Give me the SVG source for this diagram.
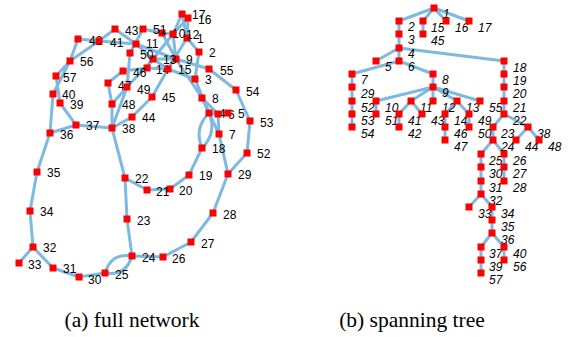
<svg xmlns="http://www.w3.org/2000/svg" width="573" height="337" viewBox="0 0 573 337">
<style>
.e{stroke:#7db9e0;stroke-width:3;fill:none;stroke-linecap:round}
.n rect{fill:#ff0000}
.n text{font-family:"Liberation Sans",Arial,sans-serif;font-size:12px;fill:#000}
.t text{font-style:italic}
.cap{font-family:"Liberation Serif","Times New Roman",serif;font-size:21.5px;fill:#000}
</style>
<rect width="573" height="337" fill="#fff"/>
<g id="connectors-a" class="e">
<path d="M187 38L199 52M199 52L195 79M195 79L209 113M209 113L228 113M209 113L218 114M218 114L219 134M218 114L202 98M202 98L176 59M176 59L162 33M176 59L136 44M176 59L173 34M176 59L153 59M153 59L147 68M153 59L168 69M187 38L168 69M187 38L188 18M187 38L182 14M195 79L168 69"/>
<path d="M209 113Q217.3 132.9 202 148M209 113Q193.7 128.1 202 148"/>
<path d="M228 113L218 114M219 134L202 98M162 33L173 34M136 44L153 59M173 34L153 59M173 34L188 18M173 34L182 14M147 68L168 69M202 148L189 175M189 175L170 189M170 189L147 190M147 190L125 178M125 178L127 219M127 219L132 256"/>
<path d="M132 256Q125.9 276.4 105 273M132 256Q111.1 252.6 105 273"/>
<path d="M132 256L163 257M163 257L191 242M191 242L213 213M213 213L228 174M219 134L228 174M105 273L79 277M79 277L53 268M53 268L33 247M33 247L19 263M33 247L30 211M30 211L37 172M37 172L50 133M50 133L76 125M76 125L112 128M76 125L60 103M50 133L53 94M125 178L112 128M136 44L99 41M99 41L78 39M99 41L115 29M112 128L132 117M168 69L152 97M147 68L123 71M123 71L108 83M108 83L112 104M112 104L127 87M127 87L130 53M130 53L143 29M162 33L143 29M153 59L127 87M228 174L247 153M247 153L250 121M250 121L236 90M236 90L209 69M136 44L115 29M132 117L152 97M53 94L70 61M70 61L99 41M70 61L78 39M60 103L56 76M56 76L70 61M112 128L127 87M112 128L112 104M176 59L209 69"/>
</g>
<g id="connectors-b" class="e">
<path d="M434 8L399 21M434 8L423 21M434 8L446 21M434 8L469 21M399 21L399 48M423 21L423 34M399 48L376 61M399 48L399 61M399 48L504 61M399 61L352 74M399 61L433 74M352 74L352 127M433 74L433 87M433 87L376 101M433 87L411 101M433 87L433 101M433 87L457 101M433 87L480 101M376 101L376 114M411 101L399 114M411 101L422 114M399 114L399 127M457 101L445 114M457 101L469 114M445 114L445 140M469 114L469 127M504 61L504 114M504 114L493 127M504 114L528 127M493 127L493 140M528 127L516 140M528 127L539 140M493 140L481 154M493 140L504 154M481 154L481 194M481 194L469 207M481 194L492 207M492 207L492 233M492 233L481 247M492 233L504 247M481 247L481 273M504 247L504 260M504 154L504 181"/>
</g>
<g id="a-n1" class="n"><rect x="183.5" y="34.5" width="7" height="7"/><text x="197" y="43">1</text></g>
<g id="a-n2" class="n"><rect x="195.5" y="48.5" width="7" height="7"/><text x="209" y="57">2</text></g>
<g id="a-n3" class="n"><rect x="191.5" y="75.5" width="7" height="7"/><text x="205" y="84">3</text></g>
<g id="a-n4" class="n"><rect x="205.5" y="109.5" width="7" height="7"/><text x="219" y="118">4</text></g>
<g id="a-n6" class="n"><rect x="214.5" y="110.5" width="7" height="7"/><text x="228" y="119">6</text></g>
<g id="a-n5" class="n"><rect x="224.5" y="109.5" width="7" height="7"/><text x="238" y="118">5</text></g>
<g id="a-n7" class="n"><rect x="215.5" y="130.5" width="7" height="7"/><text x="229" y="139">7</text></g>
<g id="a-n8" class="n"><rect x="198.5" y="94.5" width="7" height="7"/><text x="212" y="103">8</text></g>
<g id="a-n9" class="n"><text x="186" y="64">9</text><rect x="172.5" y="55.5" width="7" height="7"/></g>
<g id="a-n10" class="n"><rect x="158.5" y="29.5" width="7" height="7"/><text x="172" y="38">10</text></g>
<g id="a-n12" class="n"><rect x="169.5" y="30.5" width="7" height="7"/><text x="186" y="39">12</text></g>
<g id="a-n11" class="n"><rect x="132.5" y="40.5" width="7" height="7"/><text x="146" y="48">11</text></g>
<g id="a-n13" class="n"><text x="163" y="64">13</text><rect x="149.5" y="55.5" width="7" height="7"/></g>
<g id="a-n14" class="n"><rect x="143.5" y="64.5" width="7" height="7"/><text x="156" y="74">14</text></g>
<g id="a-n15" class="n"><rect x="164.5" y="65.5" width="7" height="7"/><text x="178" y="74">15</text></g>
<g id="a-n16" class="n"><rect x="184.5" y="14.5" width="7" height="7"/><text x="198" y="24">16</text></g>
<g id="a-n17" class="n"><rect x="178.5" y="10.5" width="7" height="7"/><text x="192" y="19">17</text></g>
<g id="a-n18" class="n"><rect x="198.5" y="144.5" width="7" height="7"/><text x="212" y="153">18</text></g>
<g id="a-n19" class="n"><rect x="185.5" y="171.5" width="7" height="7"/><text x="199" y="180">19</text></g>
<g id="a-n20" class="n"><rect x="166.5" y="185.5" width="7" height="7"/><text x="179" y="195">20</text></g>
<g id="a-n21" class="n"><rect x="143.5" y="186.5" width="7" height="7"/><text x="156" y="196">21</text></g>
<g id="a-n22" class="n"><rect x="121.5" y="174.5" width="7" height="7"/><text x="135" y="183">22</text></g>
<g id="a-n23" class="n"><rect x="123.5" y="215.5" width="7" height="7"/><text x="137" y="225">23</text></g>
<g id="a-n24" class="n"><rect x="128.5" y="252.5" width="7" height="7"/><text x="142" y="262">24</text></g>
<g id="a-n25" class="n"><rect x="101.5" y="269.5" width="7" height="7"/><text x="115" y="279">25</text></g>
<g id="a-n26" class="n"><rect x="159.5" y="253.5" width="7" height="7"/><text x="172" y="263">26</text></g>
<g id="a-n27" class="n"><rect x="187.5" y="238.5" width="7" height="7"/><text x="201" y="248">27</text></g>
<g id="a-n28" class="n"><rect x="209.5" y="209.5" width="7" height="7"/><text x="223" y="219">28</text></g>
<g id="a-n29" class="n"><rect x="224.5" y="170.5" width="7" height="7"/><text x="238" y="179">29</text></g>
<g id="a-n30" class="n"><text x="88" y="284">30</text><rect x="75.5" y="273.5" width="7" height="7"/></g>
<g id="a-n31" class="n"><rect x="49.5" y="264.5" width="7" height="7"/><text x="63" y="273">31</text></g>
<g id="a-n32" class="n"><rect x="29.5" y="243.5" width="7" height="7"/><text x="43" y="252">32</text></g>
<g id="a-n33" class="n"><rect x="15.5" y="259.5" width="7" height="7"/><text x="28" y="269">33</text></g>
<g id="a-n34" class="n"><rect x="26.5" y="207.5" width="7" height="7"/><text x="40" y="216">34</text></g>
<g id="a-n35" class="n"><rect x="33.5" y="168.5" width="7" height="7"/><text x="47" y="177">35</text></g>
<g id="a-n36" class="n"><rect x="46.5" y="129.5" width="7" height="7"/><text x="60" y="139">36</text></g>
<g id="a-n37" class="n"><rect x="72.5" y="121.5" width="7" height="7"/><text x="86" y="130">37</text></g>
<g id="a-n38" class="n"><rect x="108.5" y="124.5" width="7" height="7"/><text x="122" y="133">38</text></g>
<g id="a-n39" class="n"><rect x="56.5" y="99.5" width="7" height="7"/><text x="70" y="109">39</text></g>
<g id="a-n40" class="n"><rect x="49.5" y="90.5" width="7" height="7"/><text x="62" y="99">40</text></g>
<g id="a-n42" class="n"><rect x="74.5" y="35.5" width="7" height="7"/><text x="89" y="45">42</text></g>
<g id="a-n41" class="n"><rect x="95.5" y="37.5" width="7" height="7"/><text x="110" y="47">41</text></g>
<g id="a-n43" class="n"><rect x="111.5" y="25.5" width="7" height="7"/><text x="125" y="35">43</text></g>
<g id="a-n44" class="n"><rect x="128.5" y="113.5" width="7" height="7"/><text x="142" y="122">44</text></g>
<g id="a-n45" class="n"><rect x="148.5" y="93.5" width="7" height="7"/><text x="162" y="102">45</text></g>
<g id="a-n46" class="n"><rect x="119.5" y="67.5" width="7" height="7"/><text x="133" y="77">46</text></g>
<g id="a-n47" class="n"><rect x="104.5" y="79.5" width="7" height="7"/><text x="118" y="90">47</text></g>
<g id="a-n49" class="n"><rect x="123.5" y="83.5" width="7" height="7"/><text x="137" y="94">49</text></g>
<g id="a-n48" class="n"><rect x="108.5" y="100.5" width="7" height="7"/><text x="122" y="109">48</text></g>
<g id="a-n50" class="n"><rect x="126.5" y="49.5" width="7" height="7"/><text x="140" y="59">50</text></g>
<g id="a-n51" class="n"><rect x="139.5" y="25.5" width="7" height="7"/><text x="153" y="34">51</text></g>
<g id="a-n52" class="n"><rect x="243.5" y="149.5" width="7" height="7"/><text x="257" y="158">52</text></g>
<g id="a-n53" class="n"><rect x="246.5" y="117.5" width="7" height="7"/><text x="260" y="127">53</text></g>
<g id="a-n54" class="n"><rect x="232.5" y="86.5" width="7" height="7"/><text x="246" y="96">54</text></g>
<g id="a-n55" class="n"><rect x="205.5" y="65.5" width="7" height="7"/><text x="220" y="75">55</text></g>
<g id="a-n56" class="n"><rect x="66.5" y="57.5" width="7" height="7"/><text x="80" y="66">56</text></g>
<g id="a-n57" class="n"><rect x="52.5" y="72.5" width="7" height="7"/><text x="63" y="82">57</text></g>
<g class="n t">
<g id="b-n1"><rect x="430.5" y="4.5" width="7" height="7"/><text x="443" y="18">1</text></g>
<g id="b-n2"><rect x="395.5" y="17.5" width="7" height="7"/><text x="408" y="31">2</text></g>
<g id="b-n15"><rect x="419.5" y="17.5" width="7" height="7"/><text x="431" y="32">15</text></g>
<g id="b-n16"><rect x="442.5" y="17.5" width="7" height="7"/><text x="455" y="32">16</text></g>
<g id="b-n17"><rect x="465.5" y="17.5" width="7" height="7"/><text x="478" y="32">17</text></g>
<g id="b-n3"><rect x="395.5" y="30.5" width="7" height="7"/><text x="408" y="44">3</text></g>
<g id="b-n45"><rect x="419.5" y="30.5" width="7" height="7"/><text x="431" y="45">45</text></g>
<g id="b-n4"><rect x="395.5" y="44.5" width="7" height="7"/><text x="408" y="58">4</text></g>
<g id="b-n5"><rect x="372.5" y="57.5" width="7" height="7"/><text x="385" y="71">5</text></g>
<g id="b-n6"><rect x="395.5" y="57.5" width="7" height="7"/><text x="408" y="71">6</text></g>
<g id="b-n18"><rect x="500.5" y="57.5" width="7" height="7"/><text x="513" y="72">18</text></g>
<g id="b-n7"><rect x="348.5" y="70.5" width="7" height="7"/><text x="361" y="84">7</text></g>
<g id="b-n8"><rect x="429.5" y="70.5" width="7" height="7"/><text x="442" y="84">8</text></g>
<g id="b-n19"><rect x="500.5" y="70.5" width="7" height="7"/><text x="513" y="85">19</text></g>
<g id="b-n29"><rect x="348.5" y="83.5" width="7" height="7"/><text x="361" y="98">29</text></g>
<g id="b-n9"><rect x="429.5" y="83.5" width="7" height="7"/><text x="442" y="97">9</text></g>
<g id="b-n20"><rect x="500.5" y="83.5" width="7" height="7"/><text x="513" y="98">20</text></g>
<g id="b-n52"><rect x="348.5" y="97.5" width="7" height="7"/><text x="361" y="112">52</text></g>
<g id="b-n10"><rect x="372.5" y="97.5" width="7" height="7"/><text x="385" y="112">10</text></g>
<g id="b-n11"><rect x="407.5" y="97.5" width="7" height="7"/><text x="420" y="112">11</text></g>
<g id="b-n12"><rect x="429.5" y="97.5" width="7" height="7"/><text x="442" y="112">12</text></g>
<g id="b-n13"><rect x="453.5" y="97.5" width="7" height="7"/><text x="466" y="112">13</text></g>
<g id="b-n55"><rect x="476.5" y="97.5" width="7" height="7"/><text x="489" y="112">55</text></g>
<g id="b-n21"><rect x="500.5" y="97.5" width="7" height="7"/><text x="513" y="112">21</text></g>
<g id="b-n53"><rect x="348.5" y="110.5" width="7" height="7"/><text x="361" y="125">53</text></g>
<g id="b-n51"><rect x="372.5" y="110.5" width="7" height="7"/><text x="385" y="125">51</text></g>
<g id="b-n41"><rect x="395.5" y="110.5" width="7" height="7"/><text x="408" y="125">41</text></g>
<g id="b-n43"><rect x="418.5" y="110.5" width="7" height="7"/><text x="431" y="125">43</text></g>
<g id="b-n14"><rect x="441.5" y="110.5" width="7" height="7"/><text x="454" y="125">14</text></g>
<g id="b-n49"><rect x="465.5" y="110.5" width="7" height="7"/><text x="478" y="125">49</text></g>
<g id="b-n22"><rect x="500.5" y="110.5" width="7" height="7"/><text x="513" y="125">22</text></g>
<g id="b-n54"><rect x="348.5" y="123.5" width="7" height="7"/><text x="361" y="138">54</text></g>
<g id="b-n42"><rect x="395.5" y="123.5" width="7" height="7"/><text x="408" y="138">42</text></g>
<g id="b-n46"><rect x="441.5" y="123.5" width="7" height="7"/><text x="454" y="138">46</text></g>
<g id="b-n50"><rect x="465.5" y="123.5" width="7" height="7"/><text x="478" y="138">50</text></g>
<g id="b-n23"><rect x="489.5" y="123.5" width="7" height="7"/><text x="501" y="138">23</text></g>
<g id="b-n38"><rect x="524.5" y="123.5" width="7" height="7"/><text x="537" y="138">38</text></g>
<g id="b-n47"><rect x="441.5" y="136.5" width="7" height="7"/><text x="454" y="151">47</text></g>
<g id="b-n24"><rect x="489.5" y="136.5" width="7" height="7"/><text x="501" y="151">24</text></g>
<g id="b-n44"><rect x="512.5" y="136.5" width="7" height="7"/><text x="525" y="151">44</text></g>
<g id="b-n48"><rect x="535.5" y="136.5" width="7" height="7"/><text x="548" y="151">48</text></g>
<g id="b-n25"><rect x="477.5" y="150.5" width="7" height="7"/><text x="489" y="165">25</text></g>
<g id="b-n26"><rect x="500.5" y="150.5" width="7" height="7"/><text x="513" y="165">26</text></g>
<g id="b-n30"><rect x="477.5" y="163.5" width="7" height="7"/><text x="489" y="178">30</text></g>
<g id="b-n27"><rect x="500.5" y="163.5" width="7" height="7"/><text x="513" y="178">27</text></g>
<g id="b-n31"><rect x="477.5" y="177.5" width="7" height="7"/><text x="489" y="192">31</text></g>
<g id="b-n28"><rect x="500.5" y="177.5" width="7" height="7"/><text x="513" y="192">28</text></g>
<g id="b-n32"><rect x="477.5" y="190.5" width="7" height="7"/><text x="489" y="205">32</text></g>
<g id="b-n33"><rect x="465.5" y="203.5" width="7" height="7"/><text x="478" y="218">33</text></g>
<g id="b-n34"><rect x="488.5" y="203.5" width="7" height="7"/><text x="501" y="218">34</text></g>
<g id="b-n35"><rect x="488.5" y="216.5" width="7" height="7"/><text x="501" y="231">35</text></g>
<g id="b-n36"><rect x="488.5" y="229.5" width="7" height="7"/><text x="501" y="244">36</text></g>
<g id="b-n37"><rect x="477.5" y="243.5" width="7" height="7"/><text x="489" y="258">37</text></g>
<g id="b-n40"><rect x="500.5" y="243.5" width="7" height="7"/><text x="513" y="258">40</text></g>
<g id="b-n39"><rect x="477.5" y="256.5" width="7" height="7"/><text x="489" y="271">39</text></g>
<g id="b-n56"><rect x="500.5" y="256.5" width="7" height="7"/><text x="513" y="271">56</text></g>
<g id="b-n57"><rect x="477.5" y="269.5" width="7" height="7"/><text x="489" y="284">57</text></g>
</g>
<text class="cap" x="132" y="327" text-anchor="middle">(a) full network</text>
<text class="cap" x="412" y="327" text-anchor="middle">(b) spanning tree</text>
</svg>
